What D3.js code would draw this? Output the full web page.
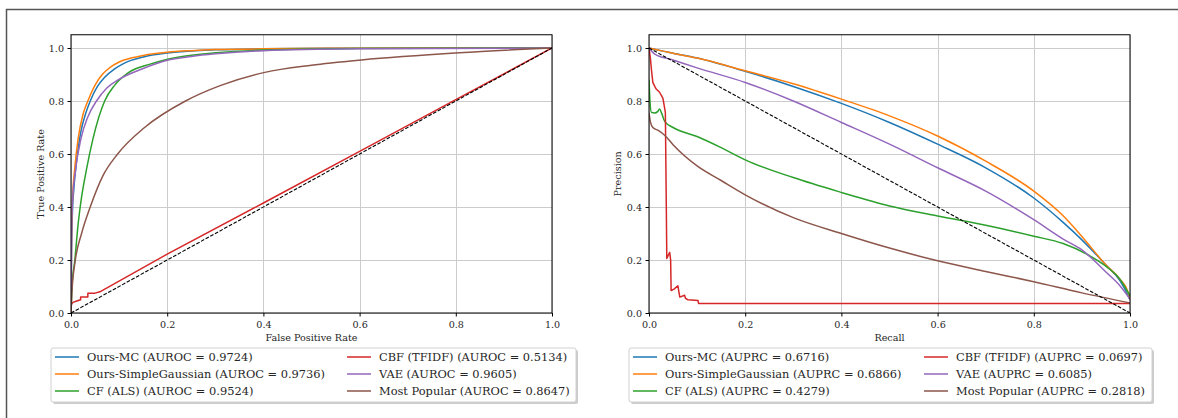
<!DOCTYPE html>
<html>
<head>
<meta charset="utf-8">
<script src="https://cdn.jsdelivr.net/npm/d3@7"></script>
<style>
  body { margin: 0; background: #fff; }
  svg { display: block; }
  text { font-family: "DejaVu Serif", serif; fill: #262626; }
</style>
</head>
<body>
<svg id="fig" width="1178" height="418"></svg>
<script>
// ---- data ----
var tickValues = [0, 0.2, 0.4, 0.6, 0.8, 1.0];
var seriesNames = ["Ours-MC", "Ours-SimpleGaussian", "CF (ALS)", "CBF (TFIDF)", "VAE", "Most Popular"];
var seriesColors = ["#1f77b4", "#ff7f0e", "#2ca02c", "#d62728", "#9467bd", "#8c564b"];
var aurocValues = ["0.9724", "0.9736", "0.9524", "0.5134", "0.9605", "0.8647"];
var auprcValues = ["0.6716", "0.6866", "0.4279", "0.0697", "0.6085", "0.2818"];

// ROC curves: [fpr, tpr]
var rocMC = [[0,0],[0.001,0.22],[0.003,0.38],[0.006,0.47],[0.012,0.58],[0.02,0.68],[0.03,0.75],[0.04,0.8],
  [0.055,0.855],[0.07,0.89],[0.09,0.92],[0.11,0.942],[0.15,0.966],[0.2,0.981],[0.25,0.989],[0.3,0.993],
  [0.4,0.997],[0.6,0.999],[1,1]];
var rocSG = [[0,0],[0.001,0.26],[0.003,0.42],[0.008,0.55],[0.015,0.66],[0.025,0.75],[0.035,0.8],[0.05,0.86],
  [0.065,0.9],[0.08,0.925],[0.1,0.947],[0.125,0.962],[0.15,0.972],[0.2,0.984],[0.25,0.99],[0.3,0.994],
  [0.4,0.997],[0.6,0.999],[1,1]];
var rocCF = [[0,0],[0.002,0.1],[0.008,0.2],[0.0145,0.33],[0.021,0.425],[0.032,0.54],[0.046,0.66],[0.07,0.8],
  [0.091,0.86],[0.118,0.905],[0.166,0.94],[0.222,0.965],[0.3,0.982],[0.4,0.992],[0.6,0.998],[1,1]];
var rocCBF = [[0,0],[0,0.03],[0.004,0.04],[0.012,0.045],[0.02,0.05],[0.02,0.06],[0.035,0.06],[0.035,0.075],
  [0.05,0.075],[0.06,0.08],[0.2,0.222],[0.4,0.415],[0.6,0.61],[0.8,0.805],[1,1]];
var rocVAE = [[0,0],[0.001,0.25],[0.003,0.42],[0.008,0.52],[0.021,0.66],[0.035,0.74],[0.053,0.8],[0.075,0.85],
  [0.098,0.88],[0.146,0.92],[0.2,0.954],[0.25,0.968],[0.3,0.978],[0.4,0.99],[0.6,0.997],[1,1]];
var rocPop = [[0,0],[0.002,0.08],[0.009,0.2],[0.022,0.3],[0.04,0.4],[0.067,0.52],[0.097,0.6],[0.153,0.7],
  [0.238,0.8],[0.31,0.858],[0.403,0.908],[0.5,0.935],[0.604,0.955],[0.807,0.982],[1,1]];

// PR curves: [recall, precision]
var prMC = [[0,1],[0.05,0.98],[0.1,0.962],[0.2,0.912],[0.3,0.855],[0.4,0.791],[0.5,0.719],[0.6,0.637],
  [0.7,0.548],[0.8,0.434],[0.861,0.342],[0.9,0.276],[0.951,0.179],[0.979,0.122],[0.995,0.07],[1,0.05]];
var prSG = [[0,1],[0.05,0.98],[0.1,0.962],[0.2,0.914],[0.3,0.865],[0.4,0.807],[0.5,0.744],[0.6,0.668],
  [0.7,0.573],[0.8,0.46],[0.861,0.367],[0.9,0.289],[0.951,0.179],[0.979,0.128],[0.997,0.075],[1,0.05]];
var prCF = [[0,0.88],[0.002,0.8],[0.005,0.757],[0.012,0.755],[0.018,0.76],[0.022,0.77],[0.026,0.755],
  [0.033,0.722],[0.05,0.7],[0.1,0.666],[0.15,0.624],[0.2,0.578],[0.3,0.511],[0.4,0.455],[0.5,0.404],
  [0.6,0.366],[0.7,0.331],[0.8,0.29],[0.861,0.262],[0.91,0.222],[0.951,0.175],[0.979,0.128],[1,0.065]];
var prCBF = [[0,1],[0.003,0.96],[0.005,0.92],[0.008,0.87],[0.012,0.855],[0.015,0.845],[0.022,0.833],
  [0.029,0.81],[0.034,0.757],[0.036,0.4],[0.037,0.206],[0.043,0.229],[0.045,0.2],[0.046,0.085],[0.052,0.09],
  [0.06,0.103],[0.064,0.06],[0.074,0.067],[0.076,0.055],[0.081,0.05],[0.102,0.047],[0.103,0.036],[1,0.036]];
var prVAE = [[0,1],[0.012,0.977],[0.05,0.955],[0.1,0.925],[0.2,0.87],[0.3,0.8],[0.4,0.719],[0.5,0.637],
  [0.6,0.548],[0.7,0.46],[0.8,0.352],[0.861,0.279],[0.9,0.238],[0.951,0.153],[0.979,0.103],[1,0.053]];
var prPop = [[0,0.755],[0.003,0.72],[0.008,0.7],[0.02,0.688],[0.033,0.67],[0.05,0.635],[0.1,0.555],
  [0.15,0.5],[0.2,0.446],[0.3,0.36],[0.4,0.3],[0.5,0.245],[0.6,0.197],[0.7,0.157],[0.8,0.118],
  [0.9,0.076],[1,0.038]];

var rocCurves = [rocMC, rocSG, rocCF, rocCBF, rocVAE, rocPop];
var prCurves = [prMC, prSG, prCF, prCBF, prVAE, prPop];
var rocChance = [[0,0],[1,1]];
var prChance = [[0,1],[1,0]];

var svg = d3.select("#fig");

// frame lines of the cropped page
svg.append("line").attr("x1", 6).attr("x2", 1178).attr("y1", 9.5).attr("y2", 9.5)
  .attr("stroke", "#555").attr("stroke-width", 1.5);
svg.append("line").attr("x1", 6.5).attr("x2", 6.5).attr("y1", 9).attr("y2", 418)
  .attr("stroke", "#555").attr("stroke-width", 1.5);

function drawPanel(p) {
  var x = d3.scaleLinear().domain([0, 1]).range([p.left, p.left + 481]);
  var y = d3.scaleLinear().domain([0, 1.05]).range([313, 34.75]);
  var g = svg.append("g");
  var clipId = "clip" + p.id;

  g.append("clipPath").attr("id", clipId).append("rect")
    .attr("x", x(0)).attr("y", y(1.05)).attr("width", x(1) - x(0)).attr("height", y(0) - y(1.05));

  // grid
  g.selectAll(".gx").data(tickValues).enter().append("line")
    .attr("x1", function (d) { return Math.round(x(d)) + 0.5; })
    .attr("x2", function (d) { return Math.round(x(d)) + 0.5; })
    .attr("y1", y(0)).attr("y2", y(1.05))
    .attr("stroke", "#cccccc").attr("stroke-width", 1);
  g.selectAll(".gy").data(tickValues).enter().append("line")
    .attr("y1", function (d) { return Math.round(y(d)) + 0.5; })
    .attr("y2", function (d) { return Math.round(y(d)) + 0.5; })
    .attr("x1", x(0)).attr("x2", x(1))
    .attr("stroke", "#cccccc").attr("stroke-width", 1);

  var line = d3.line().x(function (d) { return x(d[0]); }).y(function (d) { return y(d[1]); });
  var plot = g.append("g").attr("clip-path", "url(#" + clipId + ")");

  p.curves.forEach(function (c, i) {
    plot.append("path").datum(c)
      .attr("d", line.curve(i === 3 ? d3.curveLinear : d3.curveMonotoneX)(c))
      .attr("fill", "none").attr("stroke", seriesColors[i]).attr("stroke-width", 1.5)
      .attr("stroke-linejoin", "round");
  });
  plot.append("path").datum(p.chance)
    .attr("d", line.curve(d3.curveLinear)(p.chance))
    .attr("fill", "none").attr("stroke", "#000").attr("stroke-width", 1.1)
    .attr("stroke-dasharray", "3.7,1.6");

  // axes
  var xAxis = g.append("g").attr("transform", "translate(0," + y(0) + ")")
    .call(d3.axisBottom(x).tickValues(tickValues).tickFormat(d3.format(".1f")).tickSize(3.5).tickPadding(4.5));
  var yAxis = g.append("g").attr("transform", "translate(" + x(0) + ",0)")
    .call(d3.axisLeft(y).tickValues(tickValues).tickFormat(d3.format(".1f")).tickSize(3.5).tickPadding(3.5));
  [xAxis, yAxis].forEach(function (a) {
    a.select(".domain").remove();
    a.selectAll("text").attr("font-family", "DejaVu Serif").attr("font-size", 9.6).attr("fill", "#262626");
    a.selectAll("line").attr("stroke", "#000");
  });
  g.append("rect").attr("x", x(0)).attr("y", y(1.05)).attr("width", x(1) - x(0))
    .attr("height", y(0) - y(1.05)).attr("fill", "none").attr("stroke", "#000").attr("stroke-width", 1);

  g.append("text").attr("x", (x(0) + x(1)) / 2).attr("y", 341).attr("text-anchor", "middle")
    .attr("font-size", 9.6).text(p.xLabel);
  g.append("text").attr("transform", "translate(" + p.yLabelX + "," + y(0.525) + ") rotate(-90)")
    .attr("text-anchor", "middle").attr("font-size", 9.6).text(p.yLabel);

  // legend
  var lg = svg.append("g");
  lg.append("rect").attr("x", p.legX + 2).attr("y", 350).attr("width", p.legW).attr("height", 54)
    .attr("rx", 2).attr("fill", "#999").attr("opacity", 0.5);
  lg.append("rect").attr("x", p.legX).attr("y", 348).attr("width", p.legW).attr("height", 54)
    .attr("rx", 2).attr("fill", "#fff").attr("stroke", "#d0d0d0").attr("stroke-width", 1);
  seriesNames.forEach(function (name, i) {
    var col = Math.floor(i / 3), row = i % 3;
    var lx = p.legX + 4 + col * p.colW;
    var ly = 357 + row * 17;
    lg.append("line").attr("x1", lx).attr("x2", lx + 24).attr("y1", ly).attr("y2", ly)
      .attr("stroke", seriesColors[i]).attr("stroke-width", 1.5);
    lg.append("text").attr("x", lx + 32).attr("y", ly + 4).attr("font-size", 11.4)
      .text(name + " (" + p.metric + " = " + p.values[i] + ")");
  });
}

drawPanel({ id: "roc", left: 71, curves: rocCurves, chance: rocChance, xLabel: "False Positive Rate",
  yLabel: "True Positive Rate", yLabelX: 44, legX: 51, legW: 525, colW: 292, metric: "AUROC", values: aurocValues });
drawPanel({ id: "pr", left: 649, curves: prCurves, chance: prChance, xLabel: "Recall",
  yLabel: "Precision", yLabelX: 621, legX: 629, legW: 523, colW: 291, metric: "AUPRC", values: auprcValues });
</script>
</body>
</html>
